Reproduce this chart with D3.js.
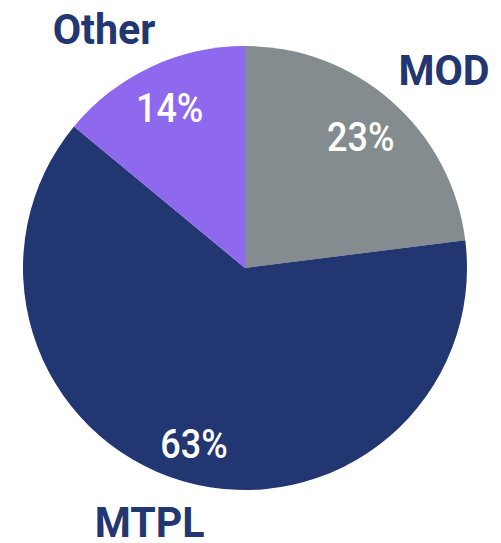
<!DOCTYPE html>
<html><head><meta charset="utf-8">
<script src="https://cdn.jsdelivr.net/npm/d3@7"></script>
<style>html,body{margin:0;padding:0;background:#fff;}</style>
</head><body>
<svg id="chart" width="501" height="543"></svg>
<script>
const categories = ["MOD", "MTPL", "Other"];
const values = [23, 63, 14];
const colors = ["#858C8F", "#223671", "#8E69EE"];
// label placement (layout only)
const pctLabelRadius = [175, 183, 177];
const outerLabelAngle = [45.1, 200.6, 329.4];
const outerLabelRadius = [281, 271, 277];

const svg = d3.select("#chart");
const cx = 245, cy = 268, R = 222;
const g = svg.append("g").attr("transform", `translate(${cx},${cy})`);

const data = categories.map((c, i) => ({cat: c, value: values[i], color: colors[i]}));
const pie = d3.pie().value(d => d.value).sort(null);
const arcs = pie(data);
const arc = d3.arc().innerRadius(0).outerRadius(R);

g.selectAll("path.slice").data(arcs).join("path")
  .attr("class", "slice")
  .attr("d", arc)
  .attr("fill", d => d.data.color);

const font = "Roboto, 'Noto Sans', sans-serif";

g.selectAll("text.pct").data(arcs).join("text")
  .attr("class", "pct")
  .attr("transform", (d, i) => {
    const c = d3.arc().innerRadius(pctLabelRadius[i]).outerRadius(pctLabelRadius[i]).centroid(d);
    return `translate(${c}) scale(0.9,1)`;
  })
  .attr("text-anchor", "middle")
  .attr("dy", "0.355em")
  .attr("fill", "#fff")
  .attr("font-family", font)
  .attr("font-weight", "500")
  .attr("font-size", 40)
  .text(d => d.data.value + "%");

g.selectAll("text.cat").data(arcs).join("text")
  .attr("class", "cat")
  .attr("transform", (d, i) => {
    const a = outerLabelAngle[i] * Math.PI / 180, r = outerLabelRadius[i];
    return `translate(${r * Math.sin(a)},${-r * Math.cos(a)}) scale(0.98,1)`;
  })
  .attr("text-anchor", "middle")
  .attr("dy", "0.355em")
  .attr("fill", "#223671")
  .attr("font-family", font)
  .attr("font-weight", "700")
  .attr("font-size", 42)
  .text(d => d.data.cat);
</script>
</body></html>
